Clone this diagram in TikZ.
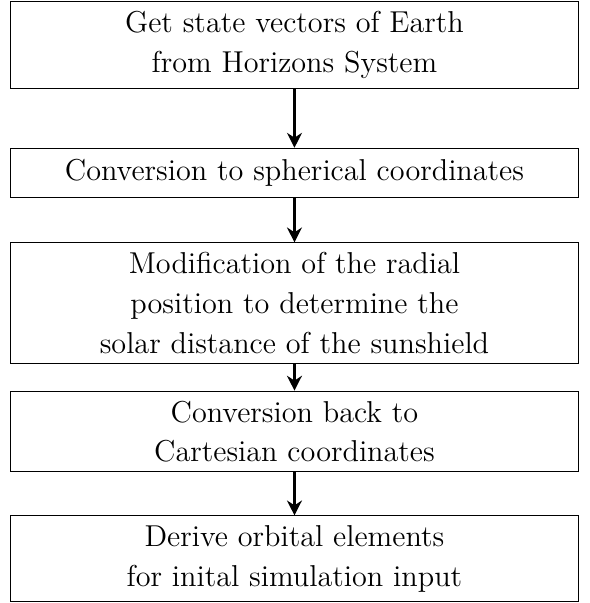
\documentclass[tikz,border=0pt]{standalone}
\usepackage{tikz}
\usetikzlibrary{arrows.meta,positioning}
\tikzset{
  stepbox/.style={draw,line width=0.4pt,align=center,minimum width=214pt,inner sep=3.6pt,
    font=\fontsize{11.4pt}{15pt}\selectfont},
  steparrow/.style={-{Stealth[length=5.6pt,width=5.6pt,inset=1.8pt]},line width=1.2pt}
}

\begin{document}
\begin{tikzpicture}
  \useasboundingbox (0,0) rectangle (222.3pt,-227.5pt);
  \node[stepbox,anchor=north] (get) at (111.1pt,-0.5pt) {Get state vectors of Earth\\from Horizons System};
  \node[stepbox,below=22.3pt of get,minimum height=18.5pt] (sph) {Conversion to spherical coordinates};
  \node[stepbox,below=16.8pt of sph] (mod) {Modification of the radial\\position to determine the\\solar distance of the sunshield};
  \node[stepbox,below=10.2pt of mod] (cart) {Conversion back to\\Cartesian coordinates};
  \node[stepbox,below=16.2pt of cart] (orb) {Derive orbital elements\\for inital simulation input};
  \draw[steparrow] (get) -- (sph);
  \draw[steparrow] (sph) -- (mod);
  \draw[steparrow] (mod) -- (cart);
  \draw[steparrow] (cart) -- (orb);
\end{tikzpicture}
\end{document}
